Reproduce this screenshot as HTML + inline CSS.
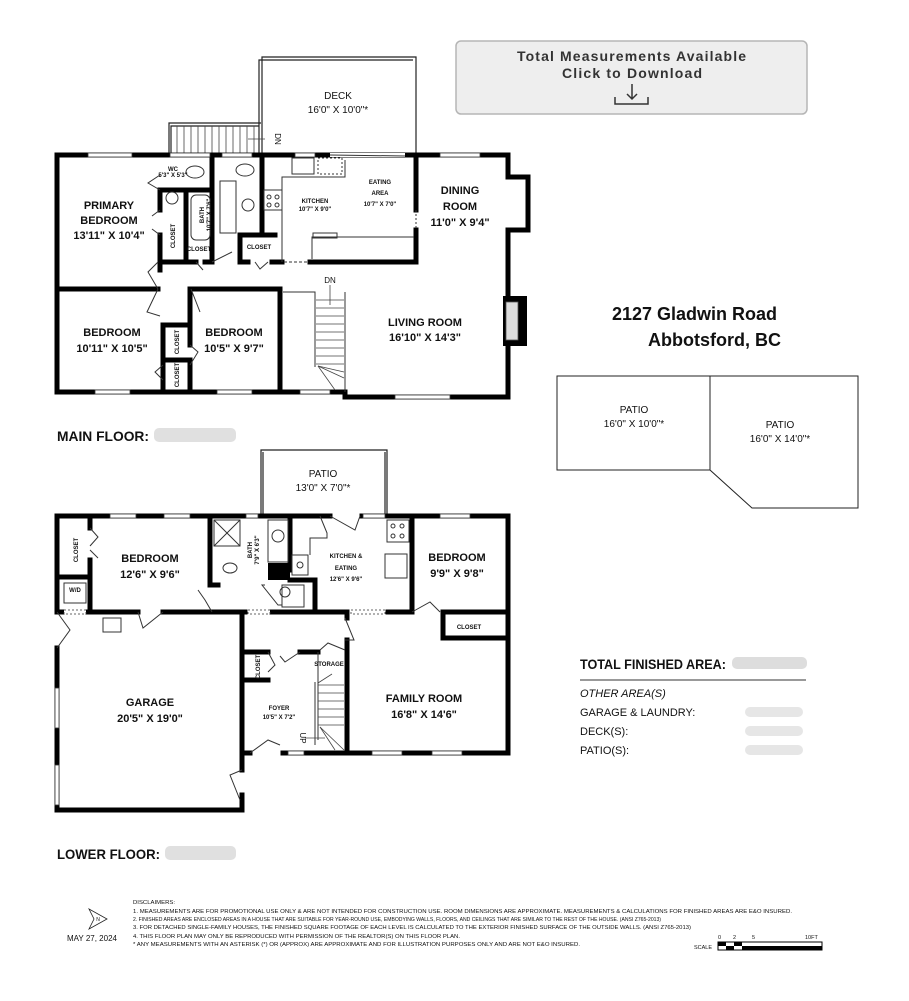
<!DOCTYPE html>
<html><head><meta charset="utf-8"><style>
html,body{margin:0;padding:0;background:#fff;}
svg{display:block;font-family:"Liberation Sans",sans-serif;}
.rl{font-size:11px;font-weight:bold;text-anchor:middle;fill:#111;}
.sm{font-size:6px;font-weight:bold;text-anchor:middle;fill:#111;}
.n{font-size:10px;text-anchor:middle;fill:#111;}
</style></head><body>
<svg width="909" height="1001" viewBox="0 0 909 1001" xmlns="http://www.w3.org/2000/svg">
<rect width="909" height="1001" fill="#fff"/>
<!-- download box -->
<rect x="456" y="41" width="351" height="73" rx="5" fill="#eeeeee" stroke="#b5b5b5" stroke-width="1.5"/>
<text x="517" y="61" font-size="14" font-weight="bold" fill="#333" textLength="229" lengthAdjust="spacing">Total Measurements Available</text>
<text x="562" y="78" font-size="14" font-weight="bold" fill="#333" textLength="140" lengthAdjust="spacing">Click to Download</text>
<path d="M632 84 V99 M627 94 L632 99 L637 94" stroke="#333" stroke-width="1.5" fill="none"/>
<path d="M615 97 V104 H648 V97" stroke="#333" stroke-width="1.5" fill="none"/>

<!-- address -->
<text x="612" y="320" font-size="18" font-weight="bold" fill="#111">2127 Gladwin Road</text>
<text x="648" y="346" font-size="18" font-weight="bold" fill="#111">Abbotsford, BC</text>

<!-- patios right -->
<g fill="none" stroke="#222" stroke-width="1">
<polygon points="557,376 710,376 710,470 557,470"/>
<polygon points="710,376 858,376 858,508 752,508 710,470"/>
</g>
<text x="634" y="413" class="n">PATIO</text>
<text x="634" y="427" class="n">16'0" X 10'0"*</text>
<text x="780" y="428" class="n">PATIO</text>
<text x="780" y="442" class="n">16'0" X 14'0"*</text>

<!-- area summary -->
<text x="580" y="669" font-size="14" font-weight="bold" fill="#111" textLength="146" lengthAdjust="spacingAndGlyphs">TOTAL FINISHED AREA:</text>
<rect x="732" y="657" width="75" height="12" rx="5" fill="#ddd"/>
<line x1="580" y1="680" x2="806" y2="680" stroke="#333" stroke-width="1"/>
<text x="580" y="697" font-size="11" font-style="italic" fill="#111">OTHER AREA(S)</text>
<text x="580" y="716" font-size="11" fill="#111">GARAGE &amp; LAUNDRY:</text>
<text x="580" y="735" font-size="11" fill="#111">DECK(S):</text>
<text x="580" y="754" font-size="11" fill="#111">PATIO(S):</text>
<rect x="745" y="707" width="58" height="10" rx="5" fill="#e6e6e6"/>
<rect x="745" y="726" width="58" height="10" rx="5" fill="#e6e6e6"/>
<rect x="745" y="745" width="58" height="10" rx="5" fill="#e6e6e6"/>

<!-- floor labels -->
<text x="57" y="441" font-size="14" font-weight="bold" fill="#111" textLength="92" lengthAdjust="spacingAndGlyphs">MAIN FLOOR:</text>
<rect x="154" y="428" width="82" height="14" rx="5" fill="#e0e0e0"/>
<text x="57" y="859" font-size="14" font-weight="bold" fill="#111" textLength="103" lengthAdjust="spacingAndGlyphs">LOWER FLOOR:</text>
<rect x="165" y="846" width="71" height="14" rx="5" fill="#e0e0e0"/>

<!-- ============ MAIN FLOOR ============ -->
<g fill="none" stroke="#222" stroke-width="1.2">
<polyline points="262,155 262,57 416,57 416,155"/>
<polyline points="259,155 259,60 413,60"/>
<polyline points="169,155 169,123 261,123"/>
<polyline points="171,155 171,126 259,126"/>
</g>
<g stroke="#444" stroke-width="0.8">
<line x1="177" y1="126" x2="177" y2="153"/><line x1="184" y1="126" x2="184" y2="153"/><line x1="191" y1="126" x2="191" y2="153"/><line x1="198" y1="126" x2="198" y2="153"/><line x1="205" y1="126" x2="205" y2="153"/><line x1="212" y1="126" x2="212" y2="153"/><line x1="219" y1="126" x2="219" y2="153"/><line x1="226" y1="126" x2="226" y2="153"/><line x1="233" y1="126" x2="233" y2="153"/><line x1="240" y1="126" x2="240" y2="153"/><line x1="247" y1="126" x2="247" y2="153"/><line x1="254" y1="126" x2="254" y2="153"/>
<line x1="248" y1="139" x2="265" y2="139"/>
</g>
<text x="275" y="139" font-size="8" transform="rotate(90 275 139)" text-anchor="middle" fill="#111">DN</text>
<text x="338" y="99" class="n">DECK</text>
<text x="338" y="113" class="n">16'0" X 10'0"*</text>

<g stroke="#000" stroke-width="5" fill="none" stroke-linecap="square">
<line x1="57" y1="155" x2="508" y2="155"/>
<line x1="57" y1="155" x2="57" y2="392"/>
<line x1="57" y1="392" x2="345" y2="392"/>
<polyline points="345,392 345,397 508,397"/>
<polyline points="508,155 508,177 528,177 528,230 508,230 508,397"/>
<line x1="160" y1="190" x2="160" y2="210"/>
<line x1="160" y1="235" x2="160" y2="262"/>
<line x1="186" y1="190" x2="186" y2="262"/>
<line x1="162" y1="190" x2="212" y2="190"/>
<line x1="212" y1="155" x2="212" y2="262"/>
<line x1="262" y1="155" x2="262" y2="235"/>
<line x1="240" y1="235" x2="275" y2="235"/>
<line x1="240" y1="235" x2="240" y2="262"/>
<line x1="160" y1="262" x2="196" y2="262"/>
<line x1="205" y1="262" x2="212" y2="262"/>
<line x1="240" y1="262" x2="248" y2="262"/>
<line x1="272" y1="262" x2="282" y2="262"/>
<line x1="310" y1="262" x2="416" y2="262"/>
<line x1="416" y1="155" x2="416" y2="210"/>
<line x1="416" y1="230" x2="416" y2="262"/>
<line x1="57" y1="289" x2="158" y2="289"/>
<line x1="191" y1="289" x2="280" y2="289"/>
<line x1="280" y1="289" x2="280" y2="392"/>
<line x1="163" y1="325" x2="163" y2="392"/>
<line x1="163" y1="325" x2="190" y2="325"/>
<line x1="190" y1="289" x2="190" y2="345"/>
<line x1="190" y1="365" x2="190" y2="392"/>
<line x1="165" y1="360" x2="190" y2="360"/>
<line x1="160" y1="262" x2="160" y2="270"/>
</g>
<!-- fireplace -->
<rect x="503" y="296" width="24" height="50" fill="#000"/>
<rect x="506" y="302" width="12" height="38" fill="#ddd" stroke="#555" stroke-width="0.8"/>
<g fill="#fff" stroke="#333" stroke-width="0.8">
<rect x="88" y="153" width="44" height="4"/><rect x="170" y="153" width="40" height="4"/><rect x="222" y="153" width="30" height="4"/><rect x="295" y="153" width="20" height="4"/><rect x="440" y="153" width="40" height="4"/>
<rect x="95" y="390" width="35" height="4"/><rect x="217" y="390" width="35" height="4"/><rect x="300" y="390" width="30" height="4"/><rect x="395" y="395" width="55" height="4"/>
<rect x="330" y="153" width="75" height="4" fill="#fff" stroke="none"/>
</g>
<line x1="330" y1="155" x2="405" y2="156" stroke="#333" stroke-width="1"/>
<g fill="none" stroke="#333" stroke-width="1">
<polyline points="282,262 282,177 345,177 345,160"/>
<rect x="292" y="158" width="22" height="16"/>
<rect x="318" y="158" width="24" height="16" stroke-dasharray="2 2"/>
<rect x="264" y="190" width="18" height="20"/>
<circle cx="269" cy="197" r="2"/><circle cx="277" cy="197" r="2"/><circle cx="269" cy="205" r="2"/><circle cx="277" cy="205" r="2"/>
<polyline points="312,259 312,237 414,237"/>
<rect x="313" y="233" width="24" height="5"/>
<rect x="220" y="181" width="16" height="52"/>
<ellipse cx="245" cy="170" rx="9" ry="6"/>
<ellipse cx="195" cy="172" rx="9" ry="6"/>
<rect x="191" y="195" width="19" height="45" rx="5"/>
<circle cx="172" cy="198" r="6"/>
<circle cx="248" cy="205" r="6"/>
<line x1="416" y1="210" x2="416" y2="230" stroke-dasharray="2 2"/>
<line x1="284" y1="262" x2="308" y2="262" stroke-dasharray="3 2"/>
<polyline points="160,175 148,183 160,190"/>
<polyline points="160,210 152,216"/><polyline points="160,235 152,229"/>
<polyline points="196,262 203,270"/><polyline points="212,262 232,252"/><polyline points="255,262 260,269 268,262"/>
<polyline points="158,289 148,272 158,262"/><polyline points="158,289 147,312 160,316"/>
<polyline points="191,289 200,312"/>
<polyline points="190,345 198,352 190,365"/><polyline points="163,365 155,372 163,380"/>
<polyline points="283,292 315,292 315,367"/>
<line x1="345" y1="292" x2="345" y2="392"/>
</g>
<g stroke="#444" stroke-width="0.8">
<line x1="316" y1="300" x2="344" y2="300"/><line x1="316" y1="308" x2="344" y2="308"/><line x1="316" y1="316" x2="344" y2="316"/><line x1="316" y1="324" x2="344" y2="324"/><line x1="316" y1="332" x2="344" y2="332"/><line x1="316" y1="340" x2="344" y2="340"/><line x1="316" y1="348" x2="344" y2="348"/><line x1="316" y1="356" x2="344" y2="356"/><line x1="316" y1="364" x2="344" y2="364"/>
<line x1="318" y1="366" x2="344" y2="378"/><line x1="318" y1="366" x2="335" y2="390"/><line x1="318" y1="366" x2="344" y2="372"/>
<line x1="330" y1="285" x2="330" y2="305"/>
</g>
<text x="330" y="283" font-size="8" text-anchor="middle" fill="#111">DN</text>
<text x="109" y="209" class="rl">PRIMARY</text>
<text x="109" y="224" class="rl">BEDROOM</text>
<text x="109" y="239" class="rl">13'11" X 10'4"</text>
<text x="112" y="336" class="rl">BEDROOM</text>
<text x="112" y="352" class="rl">10'11" X 10'5"</text>
<text x="234" y="336" class="rl">BEDROOM</text>
<text x="234" y="352" class="rl">10'5" X 9'7"</text>
<text x="425" y="326" class="rl">LIVING ROOM</text>
<text x="425" y="341" class="rl">16'10" X 14'3"</text>
<text x="460" y="194" class="rl">DINING</text>
<text x="460" y="210" class="rl">ROOM</text>
<text x="460" y="226" class="rl">11'0" X 9'4"</text>
<text x="380" y="184" class="sm" font-size="7">EATING</text>
<text x="380" y="195" class="sm" font-size="7">AREA</text>
<text x="380" y="206" class="sm" font-size="7">10'7" X 7'0"</text>
<text x="315" y="203" class="sm" font-size="5.5">KITCHEN</text>
<text x="315" y="211" class="sm" font-size="5.5">10'7" X 9'0"</text>
<text x="173" y="171" class="sm" font-size="4.5">WC</text>
<text x="173" y="177" class="sm" font-size="4">5'3" X 5'3"</text>
<text x="204" y="215" class="sm" font-size="6" transform="rotate(-90 204 215)">BATH</text>
<text x="211" y="215" class="sm" font-size="5" transform="rotate(-90 211 215)">10'7" X 7'6"</text>
<text x="175" y="236" class="sm" font-size="7" transform="rotate(-90 175 236)">CLOSET</text>
<text x="199" y="251" class="sm" font-size="4.5">CLOSET</text>
<text x="259" y="249" class="sm" font-size="6">CLOSET</text>
<text x="179" y="342" class="sm" font-size="6" transform="rotate(-90 179 342)">CLOSET</text>
<text x="179" y="375" class="sm" font-size="6" transform="rotate(-90 179 375)">CLOSET</text>

<!-- ============ LOWER FLOOR ============ -->
<g fill="none" stroke="#222" stroke-width="1.2">
<polyline points="261,516 261,450 387,450 387,516"/>
<polyline points="263,516 263,452"/><polyline points="385,516 385,452"/>
</g>
<text x="323" y="477" class="n">PATIO</text>
<text x="323" y="491" class="n">13'0" X 7'0"*</text>
<g stroke="#000" stroke-width="5" fill="none" stroke-linecap="square">
<line x1="57" y1="516" x2="330" y2="516"/>
<line x1="362" y1="516" x2="508" y2="516"/>
<line x1="57" y1="516" x2="57" y2="612"/>
<line x1="57" y1="648" x2="57" y2="810"/>
<line x1="508" y1="516" x2="508" y2="753"/>
<line x1="345" y1="753" x2="508" y2="753"/>
<line x1="283" y1="753" x2="345" y2="753"/>
<line x1="242" y1="753" x2="250" y2="753"/>
<line x1="242" y1="612" x2="242" y2="770"/>
<line x1="242" y1="795" x2="242" y2="810"/>
<line x1="57" y1="810" x2="242" y2="810"/>
<line x1="90" y1="516" x2="90" y2="528"/>
<line x1="90" y1="560" x2="90" y2="612"/>
<line x1="57" y1="577" x2="90" y2="577"/>
<line x1="57" y1="612" x2="62" y2="612"/>
<line x1="88" y1="612" x2="138" y2="612"/>
<line x1="163" y1="612" x2="242" y2="612"/>
<line x1="242" y1="612" x2="245" y2="612"/>
<line x1="272" y1="612" x2="345" y2="612"/>
<line x1="388" y1="612" x2="412" y2="612"/>
<line x1="210" y1="516" x2="210" y2="585"/>
<line x1="210" y1="585" x2="218" y2="585"/>
<line x1="290" y1="516" x2="290" y2="570"/>
<line x1="290" y1="580" x2="315" y2="580"/>
<line x1="315" y1="580" x2="315" y2="610"/>
<line x1="412" y1="516" x2="412" y2="612"/>
<line x1="443" y1="612" x2="508" y2="612"/>
<line x1="443" y1="612" x2="443" y2="638"/>
<line x1="443" y1="638" x2="508" y2="638"/>
<line x1="347" y1="640" x2="347" y2="753"/>
<line x1="347" y1="612" x2="347" y2="618"/>
<line x1="242" y1="652" x2="268" y2="652"/>
<line x1="300" y1="652" x2="318" y2="652"/>
<line x1="245" y1="680" x2="268" y2="680"/>
</g>
<rect x="268" y="563" width="22" height="17" fill="#000"/>
<g fill="#fff" stroke="#333" stroke-width="0.8">
<rect x="110" y="514" width="26" height="4"/><rect x="164" y="514" width="26" height="4"/><rect x="246" y="514" width="12" height="4"/><rect x="363" y="514" width="22" height="4"/><rect x="440" y="514" width="30" height="4"/>
<rect x="55" y="688" width="4" height="40"/><rect x="55" y="765" width="4" height="40"/>
<rect x="372" y="751" width="30" height="4"/><rect x="432" y="751" width="30" height="4"/><rect x="288" y="751" width="16" height="4"/>
<rect x="64" y="610" width="22" height="4" stroke-dasharray="2 2"/><rect x="248" y="610" width="22" height="4" stroke-dasharray="2 2"/><rect x="351" y="610" width="34" height="4" stroke-dasharray="2 2"/>
</g>
<g fill="none" stroke="#333" stroke-width="1">
<rect x="214" y="520" width="26" height="26"/><line x1="214" y1="520" x2="240" y2="546"/><line x1="240" y1="520" x2="214" y2="546"/>
<ellipse cx="230" cy="568" rx="7" ry="5"/>
<rect x="268" y="520" width="20" height="42"/><circle cx="278" cy="536" r="6"/>
<rect x="292" y="555" width="16" height="20"/><circle cx="300" cy="565" r="3"/>
<rect x="282" y="585" width="22" height="22"/><circle cx="285" cy="592" r="5"/>
<polyline points="265,585 262,585 278,605 282,605"/>
<polyline points="320,516 327,533 327,538 310,538 310,555"/>
<rect x="387" y="520" width="22" height="22"/><circle cx="393" cy="526" r="2"/><circle cx="402" cy="526" r="2"/><circle cx="393" cy="536" r="2"/><circle cx="402" cy="536" r="2"/>
<rect x="385" y="554" width="22" height="24"/>
<rect x="64" y="583" width="22" height="20"/>
<rect x="103" y="618" width="18" height="14"/>
<polyline points="330,516 355,530 360,516"/>
<polyline points="90,528 98,537 90,546"/><polyline points="90,550 98,558"/>
<polyline points="138,612 143,628 163,612"/>
<polyline points="198,590 205,600 212,612"/>
<polyline points="412,612 430,602 440,612"/>
<polyline points="345,618 354,640 345,640"/>
<polyline points="268,652 275,665 268,672"/>
<polyline points="300,652 285,662 280,656"/>
<polyline points="250,753 268,740 280,745"/>
<polyline points="242,770 230,775 240,800"/>
<polyline points="57,612 70,630 57,648"/>
<polyline points="318,652 318,740"/>
<polyline points="320,650 328,643 345,650"/>
<line x1="315" y1="682" x2="315" y2="745"/>
</g>
<g stroke="#444" stroke-width="0.8">
<line x1="318" y1="685" x2="344" y2="685"/><line x1="318" y1="693" x2="344" y2="693"/><line x1="318" y1="701" x2="344" y2="701"/><line x1="318" y1="709" x2="344" y2="709"/><line x1="318" y1="717" x2="344" y2="717"/><line x1="318" y1="725" x2="344" y2="725"/>
<line x1="320" y1="727" x2="344" y2="750"/><line x1="320" y1="727" x2="335" y2="750"/>
<line x1="318" y1="683" x2="332" y2="674"/>
<line x1="305" y1="738" x2="325" y2="738"/>
</g>
<text x="300" y="738" font-size="8" transform="rotate(90 300 738)" text-anchor="middle" fill="#111">UP</text>
<text x="150" y="562" class="rl">BEDROOM</text>
<text x="150" y="578" class="rl">12'6" X 9'6"</text>
<text x="457" y="561" class="rl">BEDROOM</text>
<text x="457" y="577" class="rl">9'9" X 9'8"</text>
<text x="150" y="706" class="rl">GARAGE</text>
<text x="150" y="722" class="rl">20'5" X 19'0"</text>
<text x="424" y="702" class="rl">FAMILY ROOM</text>
<text x="424" y="718" class="rl">16'8" X 14'6"</text>
<text x="346" y="558" class="sm" font-size="7">KITCHEN &amp;</text>
<text x="346" y="570" class="sm" font-size="7">EATING</text>
<text x="346" y="581" class="sm" font-size="7">12'6" X 9'6"</text>
<text x="279" y="710" class="sm" font-size="6">FOYER</text>
<text x="279" y="719" class="sm" font-size="5">10'5" X 7'2"</text>
<text x="329" y="666" class="sm" font-size="4.5">STORAGE</text>
<text x="469" y="629" class="sm" font-size="8" font-weight="normal">CLOSET</text>
<text x="78" y="550" class="sm" font-size="7" transform="rotate(-90 78 550)">CLOSET</text>
<text x="260" y="667" class="sm" font-size="6" transform="rotate(-90 260 667)">CLOSET</text>
<text x="252" y="550" class="sm" font-size="6" transform="rotate(-90 252 550)">BATH</text>
<text x="259" y="550" class="sm" font-size="5" transform="rotate(-90 259 550)">7'9" X 6'3"</text>
<text x="75" y="592" class="sm" font-size="4.5">W/D</text>

<!-- disclaimers -->
<g font-size="5.6" fill="#111" lengthAdjust="spacingAndGlyphs">
<text x="133" y="904" textLength="42" lengthAdjust="spacingAndGlyphs">DISCLAIMERS:</text>
<text x="133" y="913" textLength="659" lengthAdjust="spacingAndGlyphs">1. MEASUREMENTS ARE FOR PROMOTIONAL USE ONLY &amp; ARE NOT INTENDED FOR CONSTRUCTION USE. ROOM DIMENSIONS ARE APPROXIMATE. MEASUREMENTS &amp; CALCULATIONS FOR FINISHED AREAS ARE E&amp;O INSURED.</text>
<text x="133" y="921" textLength="528" lengthAdjust="spacingAndGlyphs">2. FINISHED AREAS ARE ENCLOSED AREAS IN A HOUSE THAT ARE SUITABLE FOR YEAR-ROUND USE, EMBODYING WALLS, FLOORS, AND CEILINGS THAT ARE SIMILAR TO THE REST OF THE HOUSE. (ANSI Z765-2013)</text>
<text x="133" y="929" textLength="558" lengthAdjust="spacingAndGlyphs">3. FOR DETACHED SINGLE-FAMILY HOUSES, THE FINISHED SQUARE FOOTAGE OF EACH LEVEL IS CALCULATED TO THE EXTERIOR FINISHED SURFACE OF THE OUTSIDE WALLS. (ANSI Z765-2013)</text>
<text x="133" y="938" textLength="327" lengthAdjust="spacingAndGlyphs">4. THIS FLOOR PLAN MAY ONLY BE REPRODUCED WITH PERMISSION OF THE REALTOR(S) ON THIS FLOOR PLAN.</text>
<text x="133" y="946" textLength="447" lengthAdjust="spacingAndGlyphs">* ANY MEASUREMENTS WITH AN ASTERISK (*) OR (APPROX) ARE APPROXIMATE AND FOR ILLUSTRATION PURPOSES ONLY AND ARE NOT E&amp;O INSURED.</text>
</g>
<polygon points="89,909 107,919 89,929 94,919" fill="none" stroke="#222" stroke-width="0.8"/>
<text x="98" y="921" font-size="5" fill="#111" text-anchor="middle">N</text>
<text x="67" y="941" font-size="8" fill="#111">MAY 27, 2024</text>
<g font-size="5.5" fill="#111">
<text x="718" y="939">0</text><text x="733" y="939">2</text><text x="752" y="939">5</text><text x="805" y="939">10FT</text>
<text x="694" y="949">SCALE</text>
</g>
<rect x="718" y="942" width="104" height="8" fill="#fff" stroke="#000" stroke-width="1"/>
<g fill="#000">
<rect x="718" y="942" width="8" height="4"/><rect x="734" y="942" width="8" height="4"/><rect x="726" y="946" width="8" height="4"/><rect x="742" y="946" width="13" height="4"/>
<rect x="755" y="946" width="67" height="4"/>
</g>
</svg>
</body></html>
